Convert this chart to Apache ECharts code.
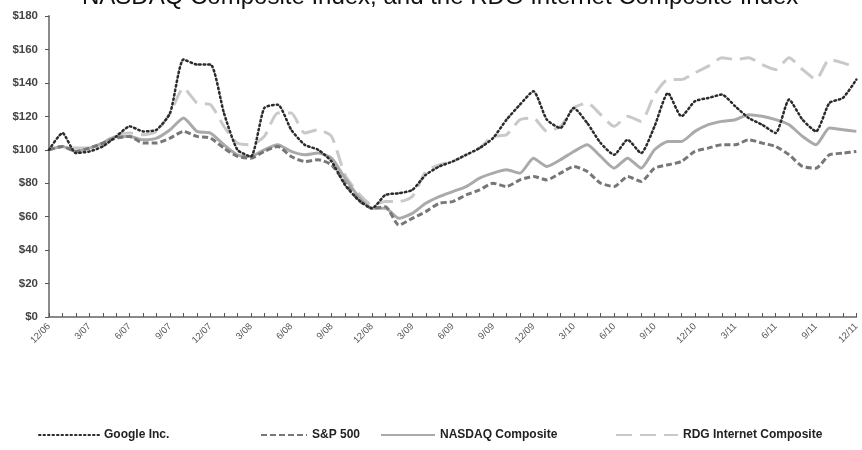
<!DOCTYPE html>
<html>
<head>
<meta charset="utf-8">
<script src="https://cdn.jsdelivr.net/npm/echarts@6/dist/echarts.min.js"></script>
<style>
  html, body { margin: 0; padding: 0; background: #fff; }
  #main { width: 862px; height: 450px; }
</style>
</head>
<body>
<div id="main"></div>
<script>
// monthly points, 12/06 .. 12/11
var months = [
  "12/06", "1/07", "2/07", "3/07", "4/07", "5/07", "6/07", "7/07", "8/07", "9/07", "10/07", "11/07",
  "12/07", "1/08", "2/08", "3/08", "4/08", "5/08", "6/08", "7/08", "8/08", "9/08", "10/08", "11/08",
  "12/08", "1/09", "2/09", "3/09", "4/09", "5/09", "6/09", "7/09", "8/09", "9/09", "10/09", "11/09",
  "12/09", "1/10", "2/10", "3/10", "4/10", "5/10", "6/10", "7/10", "8/10", "9/10", "10/10", "11/10",
  "12/10", "1/11", "2/11", "3/11", "4/11", "5/11", "6/11", "7/11", "8/11", "9/11", "10/11", "11/11",
  "12/11"
];
var google = [
  100, 110, 98, 99, 102, 108, 114, 111, 112, 122, 154, 151,
  151, 122, 100, 96, 125, 127, 112, 103, 100, 93, 79, 70,
  65, 73, 74, 76, 85, 90, 93, 97, 101, 107, 118, 127,
  135, 118, 113, 125, 116, 104, 97, 106, 98, 114, 134, 120,
  129, 131, 133, 126, 119, 115, 110, 130, 118, 111, 128, 131,
  142
];
var sp500 = [
  100, 102, 99, 101, 104, 107, 108, 104, 104, 107, 111, 108,
  107, 101, 96, 95, 99, 102, 96, 93, 94, 91, 80, 70,
  65, 66, 55, 59, 63, 68, 69, 73, 76, 80, 78, 82,
  84, 82, 86, 90, 87, 80, 78, 84, 81, 89, 91, 93,
  99, 101, 103, 103, 106, 104, 102, 97, 90, 89, 97, 98,
  99
];
var nasdaq = [
  100, 102, 99, 101, 104, 108, 108, 106, 107, 112, 119, 111,
  110, 103, 97, 96, 100, 103, 99, 97, 98, 95, 83, 72,
  65, 65, 59, 62, 68, 72, 75, 78, 83, 86, 88, 86,
  95, 90, 94, 99, 103, 96, 89, 95, 89, 100, 105, 105,
  111, 115, 117, 118, 121, 120, 118, 115, 108, 103, 113, 112,
  111
];
var rdg = [
  100, 102, 101, 101, 104, 109, 110, 109, 111, 122, 137, 128,
  127, 114, 104, 103, 108, 122, 122, 110, 112, 108, 85, 74,
  67, 69, 69, 72, 87, 91, 93, 97, 101, 108, 109, 118,
  119, 111, 114, 125, 128, 121, 114, 120, 117, 133, 142, 142,
  146, 150, 155, 154, 155, 151, 148, 155, 148, 142, 154, 152,
  149
];
var yTicks = { min: 0, max: 180, step: 20 };

var myChart = echarts.init(document.getElementById("main"));

function legendAt(name, left, w) {
  return {
    data: [name],
    left: left,
    top: 424,
    itemWidth: w,
    itemHeight: 10,
    itemGap: 4,
    selectedMode: false,
    itemStyle: { opacity: 0 },
    textStyle: { fontFamily: "Liberation Sans", fontWeight: "bold", fontSize: 12, color: "#222" }
  };
}

var option = {
  animation: false,
  title: {
    text: "NASDAQ Composite Index, and the RDG Internet Composite Index",
    left: 77,
    top: -20,
    textStyle: { fontFamily: "Liberation Sans", fontWeight: "normal", fontSize: 24, color: "#111" }
  },
  legend: [
    legendAt("Google Inc.", 33, 60),
    legendAt("S&P 500", 255, 46),
    legendAt("NASDAQ Composite", 375, 54),
    legendAt("RDG Internet Composite", 610, 62)
  ],
  grid: { left: 49, right: -3, top: 16, bottom: 133 },
  xAxis: {
    type: "category",
    boundaryGap: false,
    data: months,
    axisLine: { lineStyle: { color: "#8a8a8a", width: 2 } },
    axisTick: { show: true, inside: true, length: 4, interval: 0, lineStyle: { color: "#555" } },
    axisLabel: {
      interval: 2,
      rotate: 45,
      fontFamily: "Liberation Sans",
      fontSize: 9.5,
      color: "#555",
      margin: 8
    }
  },
  yAxis: {
    type: "value",
    min: yTicks.min,
    max: yTicks.max,
    interval: yTicks.step,
    splitLine: { show: false },
    axisLine: { show: true, lineStyle: { color: "#8a8a8a", width: 2 } },
    axisTick: { show: true, length: 4, lineStyle: { color: "#555" } },
    axisLabel: {
      formatter: "${value}",
      fontFamily: "Liberation Sans",
      fontWeight: "bold",
      fontSize: 11.5,
      color: "#444",
      margin: 11
    }
  },
  series: [
    {
      name: "Google Inc.",
      type: "line",
      data: google,
      symbol: "none",
      smooth: 0.2,
      z: 5,
      color: "#2b2b2b",
      lineStyle: { color: "#2b2b2b", width: 2.5, type: [1.5, 3], cap: "round" }
    },
    {
      name: "S&P 500",
      type: "line",
      data: sp500,
      symbol: "none",
      smooth: 0.2,
      z: 4,
      color: "#777",
      lineStyle: { color: "#777", width: 3, type: [6, 3] }
    },
    {
      name: "NASDAQ Composite",
      type: "line",
      data: nasdaq,
      symbol: "none",
      smooth: 0.2,
      z: 3,
      color: "#aaa",
      lineStyle: { color: "#aaa", width: 3 }
    },
    {
      name: "RDG Internet Composite",
      type: "line",
      data: rdg,
      symbol: "none",
      smooth: 0.2,
      z: 2,
      color: "#c9c9c9",
      lineStyle: { color: "#c9c9c9", width: 3, type: [16, 8] }
    }
  ]
};

myChart.setOption(option);
</script>
</body>
</html>
